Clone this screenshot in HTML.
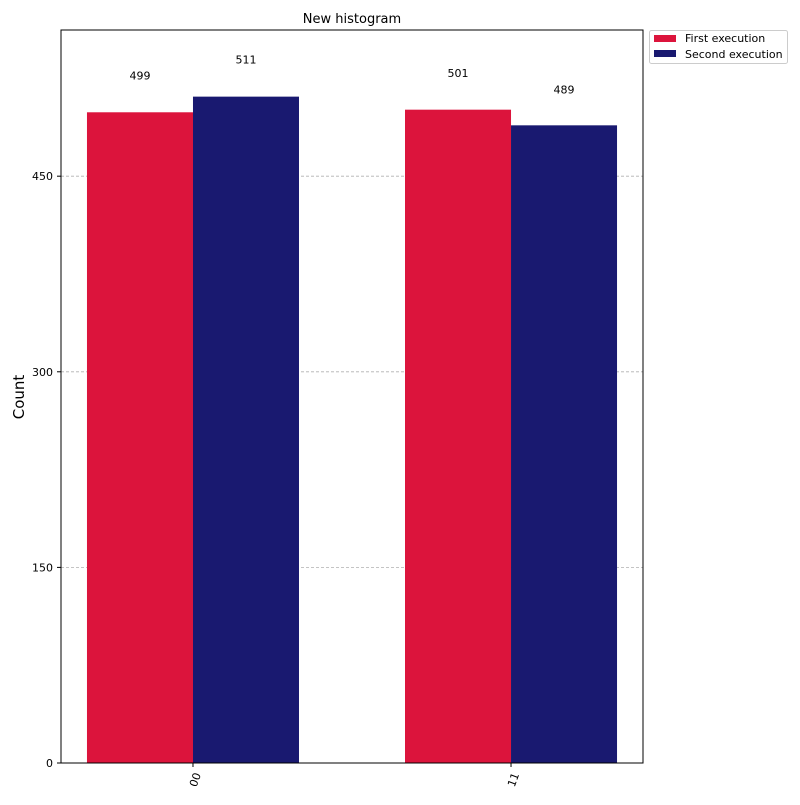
<!DOCTYPE html>
<html><head><meta charset="utf-8"><style>
body{margin:0;background:#fff;font-family:"Liberation Sans","DejaVu Sans",sans-serif;}
</style></head><body>
<svg id="chart" width="800" height="800" xmlns="http://www.w3.org/2000/svg" font-family="DejaVu Sans, Liberation Sans, sans-serif">
<rect width="800" height="800" fill="#fff"/>
<text x="352" y="23" font-size="13" text-anchor="middle">New histogram</text>
<g id="grid"></g>
<g id="bars"></g>
<g id="labels"></g>
<rect x="61" y="30" width="582" height="733" fill="none" stroke="#000" stroke-width="1"/>
<g id="yaxis"></g>
<g id="xaxis"></g>
<text transform="translate(24,397) rotate(-90)" font-size="15" text-anchor="middle">Count</text>
<g>
<rect x="649.5" y="30.5" width="138" height="33" fill="#fff" stroke="#ccc" rx="2"/>
<rect x="654" y="35" width="22" height="7" fill="#DC143C"/>
<text x="685" y="42" font-size="11">First execution</text>
<rect x="654" y="50" width="22" height="7" fill="#191970"/>
<text x="685" y="58" font-size="11">Second execution</text>
</g>
</svg>
<script>
const categories = ["00", "11"];
const firstValues = [499, 501];
const secondValues = [511, 489];
const yTicks = [0, 150, 300, 450];
const seriesNames = ["First execution", "Second execution"];

const NS = "http://www.w3.org/2000/svg";
const plotL = 61, plotR = 643, plotT = 30, plotB = 763;
const yMax = Math.max(...firstValues, ...secondValues) * 1.1;
const xMin = -0.415, xMax = categories.length - 1 + 0.415;
const y = v => plotB - v / yMax * (plotB - plotT);
const x = v => plotL + (v - xMin) / (xMax - xMin) * (plotR - plotL);
const bw = 1 / 3;
function mk(tag, attrs, parent) {
  const e = document.createElementNS(NS, tag);
  for (const k in attrs) e.setAttribute(k, attrs[k]);
  parent.appendChild(e);
  return e;
}
const grid = document.getElementById("grid"), yaxis = document.getElementById("yaxis");
yTicks.forEach(t => {
  const yy = y(t);
  if (t > 0) {
    const g = mk("line", {x1: plotL, x2: plotR, y1: yy, y2: yy, stroke: "#b0b0b0", "stroke-dasharray": "3,2", "stroke-width": 0.8}, grid);
    
    
  }
  mk("line", {x1: plotL - 4, x2: plotL, y1: yy, y2: yy, stroke: "#000"}, yaxis);
  const tx = mk("text", {x: plotL - 8, y: yy + 4, "font-size": 11, "text-anchor": "end"}, yaxis);
  tx.textContent = t;
  
  
});
const bars = document.getElementById("bars"), labels = document.getElementById("labels"), xaxis = document.getElementById("xaxis");
const series = [firstValues, secondValues];
const colors = ["#DC143C", "#191970"];
categories.forEach((c, i) => {
  series.forEach((vals, s) => {
    const x0 = x(i - bw + s * bw), x1 = x(i + s * bw);
    const r = mk("rect", {x: x0, y: y(vals[i]), width: x1 - x0, height: plotB - y(vals[i]), fill: colors[s]}, bars);
    
    
    const t = mk("text", {x: (x0 + x1) / 2, y: y(vals[i] * 1.05), "font-size": 11, "text-anchor": "middle"}, labels);
    t.textContent = vals[i];
    
    
  });
  const cx = x(i);
  mk("line", {x1: cx, x2: cx, y1: plotB, y2: plotB + 4, stroke: "#000"}, xaxis);
  const tl = mk("text", {transform: `translate(${cx + 3},${plotB + 17}) rotate(-70)`, "font-size": 11, "text-anchor": "middle", "dominant-baseline": "middle"}, xaxis);
  tl.textContent = c;
  
  
});
</script>
</body></html>
